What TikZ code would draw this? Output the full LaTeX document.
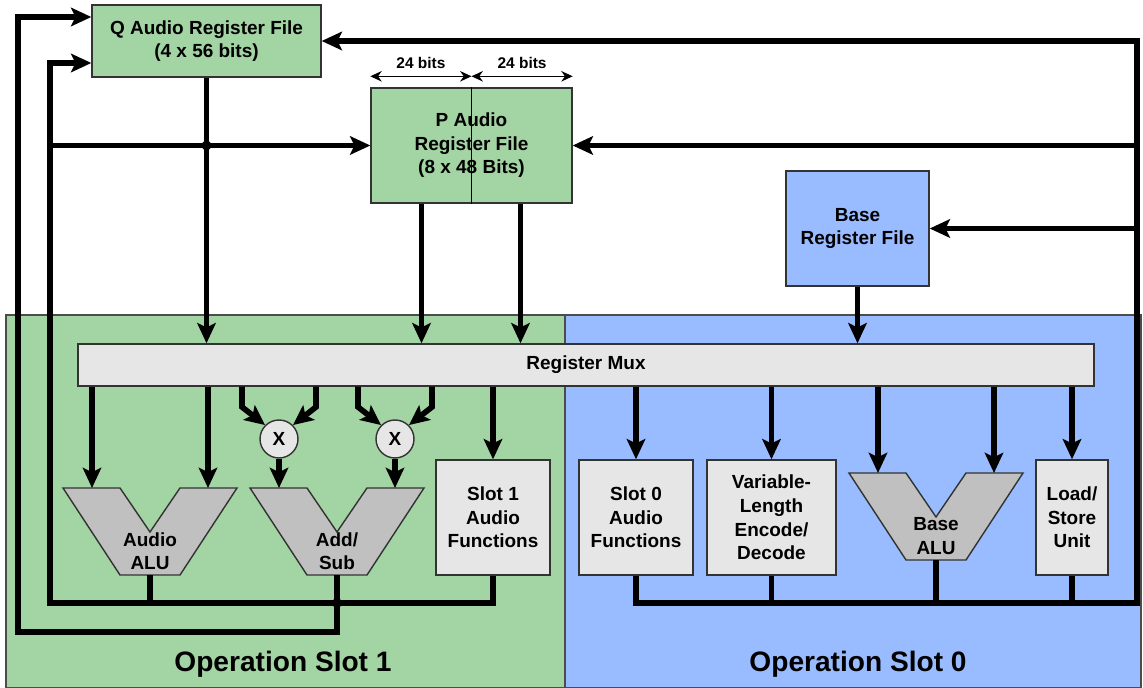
\documentclass[tikz,border=0pt]{standalone}
\usepackage{fontspec}
\setmainfont{Liberation Sans}
\usetikzlibrary{arrows.meta}
\definecolor{regGreen}{RGB}{163,212,163}
\definecolor{regBlue}{RGB}{153,187,255}
\definecolor{muxGray}{RGB}{230,230,230}
\definecolor{aluGray}{RGB}{192,192,192}
\newcommand{\boxfont}{\fontsize{10.8}{13.4}\selectfont\bfseries}

\begin{document}
\begin{tikzpicture}[x=0.02cm,y=-0.02cm]
  \tikzset{
    unit/.style={draw=black!80,line width=0.8pt,align=center,font=\boxfont,inner sep=0pt},
    bus/.style={line width=3.2pt},
    feed/.style={bus,-{Stealth[length=11.5pt,width=10.5pt,inset=2.5pt]}},
    dim/.style={line width=0.6pt,{Stealth[length=6.5pt,width=6pt]}-{Stealth[length=6.5pt,width=6pt]}},
    mult/.style={unit,circle,fill=muxGray,minimum size=0.76cm},
    alu/.pic={
      \draw[draw=black!80,line width=0.8pt,fill=aluGray]
        (-87,0) -- (-30,0) -- (0,44) -- (30,0) -- (87,0) -- (30,87) -- (-30,87) -- cycle;
      \node[font=\boxfont,align=center] at (0,63) {\tikzpictext};
      \coordinate (-in1) at (-58,0);
      \coordinate (-in2) at (58,0);
      \coordinate (-out) at (0,87);
    }
  }
  \useasboundingbox (0,0) rectangle (1143,688);

  % operation slots
  \draw[draw=black!70,line width=0.6pt,fill=regGreen] (6,315) rectangle (565,688);
  \draw[draw=black!70,line width=0.6pt,fill=regBlue] (565,315) rectangle (1141,688);
  \node[font=\fontsize{16}{19}\selectfont\bfseries] (slot1) at (283,664) {Operation Slot 1};
  \node[font=\fontsize{16}{19}\selectfont\bfseries] (slot0) at (858,664) {Operation Slot 0};

  % register files
  \node[unit,fill=regGreen,minimum width=4.58cm,minimum height=1.44cm] (qreg) at (206.5,41)
    {Q Audio Register File\\(4 x 56 bits)};
  \node[unit,fill=regGreen,minimum width=4.02cm,minimum height=2.3cm] (preg) at (471.5,145.5)
    {P Audio\\Register File\\(8 x 48 Bits)};
  \draw[line width=0.5pt] (preg.north) -- (preg.south);
  \node[unit,fill=regBlue,minimum width=2.86cm,minimum height=2.3cm] (basereg) at (857.5,228.5)
    {Base\\Register File};

  \draw[dim] ([yshift=0.22cm]preg.north west) -- node[above=1pt,font=\fontsize{8.8}{10}\selectfont\bfseries] {24 bits} ([yshift=0.22cm]preg.north);
  \draw[dim] ([yshift=0.22cm]preg.north) -- node[above=1pt,font=\fontsize{8.8}{10}\selectfont\bfseries] {24 bits} ([yshift=0.22cm]preg.north east);

  \node[unit,fill=muxGray,minimum width=20.32cm,minimum height=0.84cm] (mux) at (586,365) {Register Mux};

  % slot 1 units
  \pic[pic text={Audio\\ALU}] (aalu) at (150,488) {alu};
  \pic[pic text={Add/\\Sub}] (asub) at (337,488) {alu};
  \node[mult] (m1) at (279,439) {X};
  \node[mult] (m2) at (395,439) {X};
  \node[unit,fill=muxGray,minimum width=2.28cm,minimum height=2.3cm] (s1fn) at (493,517.5)
    {Slot 1\\Audio\\Functions};

  % slot 0 units
  \node[unit,fill=muxGray,minimum width=2.28cm,minimum height=2.3cm] (s0fn) at (636,517.5)
    {Slot 0\\Audio\\Functions};
  \node[unit,fill=muxGray,minimum width=2.58cm,minimum height=2.3cm] (vle) at (771.5,517.5)
    {Variable-\\Length\\Encode/\\Decode};
  \pic[pic text={Base\\ALU}] (balu) at (936,473) {alu};
  \node[unit,fill=muxGray,minimum width=1.44cm,minimum height=2.3cm] (ls) at (1072,517.5)
    {Load/\\Store\\Unit};

  % into the mux
  \draw[feed] (qreg.south) -- (qreg.south |- mux.north);
  \draw[feed] ([xshift=-1cm]preg.south) -- ([xshift=-1cm]preg.south |- mux.north);
  \draw[feed] ([xshift=0.98cm]preg.south) -- ([xshift=0.98cm]preg.south |- mux.north);
  \draw[feed] (basereg.south) -- (basereg.south |- mux.north);

  % out of the mux
  \coordinate (m1a) at (242,407);
  \coordinate (m1b) at (316,407);
  \coordinate (m2a) at (358,407);
  \coordinate (m2b) at (432,407);
  \draw[feed] (mux.south -| aalu-in1) -- (aalu-in1);
  \draw[feed] (mux.south -| aalu-in2) -- (aalu-in2);
  \draw[feed] (mux.south -| m1a) -- (m1a) -- (m1.135);
  \draw[feed] (mux.south -| m1b) -- (m1b) -- (m1.45);
  \draw[feed] (mux.south -| m2a) -- (m2a) -- (m2.135);
  \draw[feed] (mux.south -| m2b) -- (m2b) -- (m2.45);
  \draw[feed] (m1.south) -- (asub-in1);
  \draw[feed] (m2.south) -- (asub-in2);
  \draw[feed] (mux.south -| s1fn) -- (s1fn.north);
  \draw[feed] (mux.south -| s0fn) -- (s0fn.north);
  \draw[feed] (mux.south -| vle) -- (vle.north);
  \draw[feed] (mux.south -| balu-in1) -- (balu-in1);
  \draw[feed] (mux.south -| balu-in2) -- (balu-in2);
  \draw[feed] (mux.south -| ls) -- (ls.north);

  % result buses
  \coordinate (lbus) at (50,603);
  \coordinate (obus) at (18,632);
  \coordinate (rbus) at (1137,603);
  \draw[feed] (s1fn.south) |- (lbus) |- ([yshift=-0.44cm]qreg.west);
  \draw[feed] (lbus |- preg.west) -- (preg.west);
  \draw[bus] (aalu-out) -- (aalu-out |- lbus);
  \draw[feed] (asub-out) |- (obus) |- ([yshift=0.48cm]qreg.west);
  \fill (asub-out |- lbus) circle[radius=2.8pt];
  \fill (qreg.south |- preg.west) circle[radius=2.8pt];

  \draw[feed] (s0fn.south) |- (rbus) |- (qreg.east);
  \draw[bus] (vle.south) -- (vle.south |- rbus);
  \draw[bus] (balu-out) -- (balu-out |- rbus);
  \draw[bus] (ls.south) -- (ls.south |- rbus);
  \draw[feed] (rbus |- preg.east) -- (preg.east);
  \draw[feed] (rbus |- basereg.east) -- (basereg.east);
\end{tikzpicture}
\end{document}
